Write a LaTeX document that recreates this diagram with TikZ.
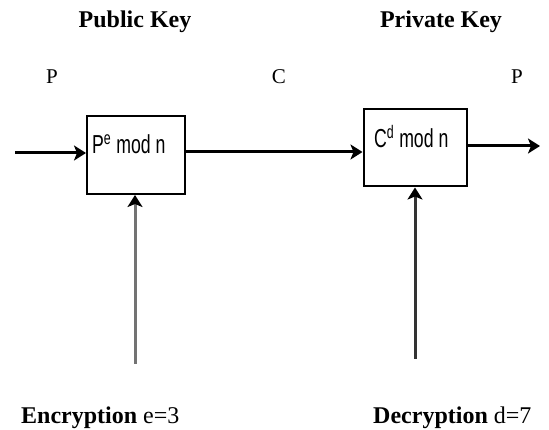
\documentclass[tikz,border=0pt]{standalone}
\usepackage{fontspec}
\setmainfont{Liberation Serif}
\newfontfamily\boxfont[FakeStretch=0.68]{Liberation Sans}
\usetikzlibrary{arrows.meta,calc}

\begin{document}
\begin{tikzpicture}[x=1pt,y=-1pt,
	box/.style={draw,line width=2pt,inner sep=0pt},
	boxtxt/.style={anchor=base west,inner sep=0pt,font=\boxfont\fontsize{26}{26}\selectfont},
	flow/.style={line width=3pt,-{Stealth[length=12pt,width=15pt,inset=3pt]}},
	keyflow/.style={flow,-{Stealth[length=12pt,width=15pt,inset=3pt,color=black]}},
	head/.style={anchor=base,inner sep=0pt,font=\fontsize{24}{24}\selectfont\bfseries},
	sym/.style={anchor=base,inner sep=0pt,font=\fontsize{21}{21}\selectfont}]
	\useasboundingbox (0,0) rectangle (549,430);

	%HEADINGS
	\node[head] (pub) at (135,28) {Public Key};
	\node[head] (priv) at (441,28) {Private Key};
	\node[sym] (pleft) at (52,84) {P};
	\node[sym] (cmsg) at (279,84) {C};
	\node[sym] (pright) at (517,84) {P};

	%BOXES
	\node[box,minimum width=98pt,minimum height=78pt] (enc) at (136,155) {};
	\node[box,minimum width=103pt,minimum height=77pt] (dec) at (415,148) {};
	\node[boxtxt] (enctxt) at (92,154) {P\textsuperscript{e} mod n};
	\node[boxtxt] (dectxt) at (374,148) {C\textsuperscript{d} mod n};

	%MESSAGE FLOW
	\coordinate (pin) at (15,153);
	\coordinate (cmid) at (279,152);
	\coordinate (pout) at (540,146);
	\draw[flow] (pin) -- (pin -| enc.west);
	\draw[flow] (cmid -| enc.east) -- (cmid -| dec.west);
	\draw[flow] (pout -| dec.east) -- (pout);

	%KEYS
	\coordinate (ekey) at (135,364);
	\coordinate (dkey) at (415,359);
	\draw[keyflow,draw=black!55] (ekey) -- (ekey |- enc.south);
	\draw[keyflow,draw=black!80] (dkey) -- (dkey |- dec.south);

	\node[anchor=base west,inner sep=0pt,font=\fontsize{24}{24}\selectfont] (enclbl) at (21,423) {\textbf{Encryption} e=3};
	\node[anchor=base west,inner sep=0pt,font=\fontsize{24}{24}\selectfont] (declbl) at (373,423) {\textbf{Decryption} d=7};
\end{tikzpicture}
\end{document}
